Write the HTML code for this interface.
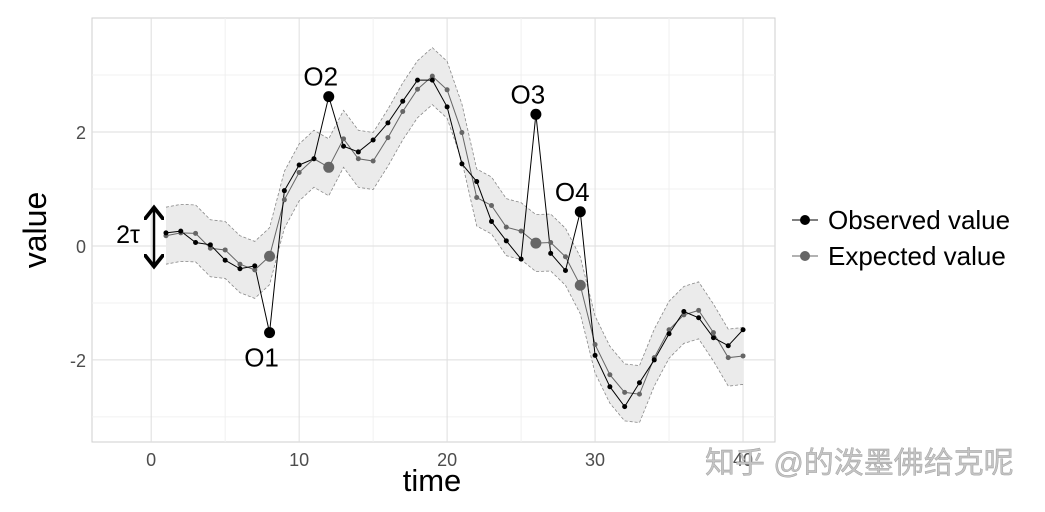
<!DOCTYPE html>
<html><head><meta charset="utf-8"><style>
body{margin:0;background:#fff;}
svg text{font-family:"Liberation Sans","Noto Sans CJK SC",sans-serif;}
</style></head><body>
<svg id="chart" width="1045" height="507" xmlns="http://www.w3.org/2000/svg">
<defs><marker id="ah" markerWidth="8" markerHeight="8" refX="4" refY="4" orient="auto-start-reverse"><path d="M0,0 L5,4 L0,8" fill="none" stroke="#000" stroke-width="1.5"/></marker></defs>
<g id="grid"></g>
<g id="band"></g>
<g id="series"></g>
<g id="axes"></g>
<text x="46" y="230" font-size="32" text-anchor="middle" transform="rotate(-90 46 230)">value</text>
<text x="432" y="491" font-size="31" text-anchor="middle">time</text>
<g>
<line x1="154" y1="210" x2="154" y2="264" stroke="#000" stroke-width="2.5" marker-start="url(#ah)" marker-end="url(#ah)"/>
<text x="128" y="243" font-size="25" text-anchor="middle">2τ</text>
</g>
<g id="labels"></g>
<g>
<g>
<line x1="792" y1="220" x2="818" y2="220" stroke="#000" stroke-width="1"/><circle cx="805" cy="220" r="5" fill="#000"/>
<text x="828" y="229" font-size="26">Observed value</text></g>
<g>
<line x1="792" y1="256" x2="818" y2="256" stroke="#666" stroke-width="1"/><circle cx="805" cy="256" r="5" fill="#666"/>
<text x="828" y="265" font-size="26">Expected value</text></g>
</g>
<text x="705" y="473" font-size="30" fill="#c4c4c4" stroke="#999" stroke-width="0.4">知乎 @的泼墨佛给克呢</text>
</svg>
<script>
const times=[1,2,3,4,5,6,7,8,9,10,11,12,13,14,15,16,17,18,19,20,21,22,23,24,25,26,27,28,29,30,31,32,33,34,35,36,37,38,39,40];
const observed=[0.23,0.26,0.06,0.02,-0.25,-0.40,-0.35,-1.52,0.97,1.42,1.53,2.62,1.75,1.65,1.86,2.16,2.54,2.91,2.91,2.44,1.44,1.13,0.43,0.09,-0.23,2.31,-0.13,-0.43,0.60,-1.92,-2.47,-2.82,-2.40,-2.00,-1.54,-1.15,-1.26,-1.61,-1.75,-1.47];
const expected=[0.18,0.23,0.22,-0.04,-0.07,-0.32,-0.42,-0.18,0.81,1.29,1.53,1.38,1.88,1.53,1.49,1.90,2.36,2.75,2.98,2.74,1.99,0.85,0.71,0.33,0.26,0.05,0.06,-0.19,-0.69,-1.73,-2.26,-2.57,-2.60,-1.96,-1.47,-1.21,-1.13,-1.52,-1.96,-1.93];
const tau=0.5;
const outlierTimes=[8,12,26,29];
const outlierLabels=["O1","O2","O3","O4"];
const xTicks=[0,10,20,30,40];
const yTicks=[-2,0,2];
const xMinor=[5,15,25,35];
const yMinor=[-3,-1,1,3];
const L=92,R=775,T=18,B=442,xmin=-4,xmax=42.16,ymin=-3.44,ymax=4.0;
const X=v=>L+(v-xmin)/(xmax-xmin)*(R-L);
const Y=v=>B-(v-ymin)/(ymax-ymin)*(B-T);
const NS='http://www.w3.org/2000/svg';
function mk(tag,attrs,parent){const e=document.createElementNS(NS,tag);for(const k in attrs)e.setAttribute(k,attrs[k]);parent.appendChild(e);return e;}
const grid=document.getElementById('grid'),axes=document.getElementById('axes');
mk('rect',{x:L,y:T,width:R-L,height:B-T,fill:'#fff',stroke:'#cfcfcf'},grid);
xMinor.forEach(v=>{const l=mk('line',{x1:X(v),x2:X(v),y1:T,y2:B,stroke:'#f0f0f0'},grid);});
yMinor.forEach(v=>{const l=mk('line',{x1:L,x2:R,y1:Y(v),y2:Y(v),stroke:'#f0f0f0'},grid);});
xTicks.forEach(v=>{const l=mk('line',{x1:X(v),x2:X(v),y1:T,y2:B,stroke:'#dedede'},grid);
const t=mk('text',{x:X(v),y:B+24,'font-size':18,fill:'#4d4d4d','text-anchor':'middle'},axes);t.textContent=v;});
yTicks.forEach(v=>{const l=mk('line',{x1:L,x2:R,y1:Y(v),y2:Y(v),stroke:'#dedede'},grid);
const t=mk('text',{x:L-6,y:Y(v)+7,'font-size':18,fill:'#4d4d4d','text-anchor':'end'},axes);t.textContent=v;});
const up=times.map((t,i)=>X(t)+','+Y(expected[i]+tau));
const lo=times.map((t,i)=>X(t)+','+Y(expected[i]-tau)).reverse();
const band=document.getElementById('band');
const bp=mk('polygon',{points:up.concat(lo).join(' '),fill:'#ebebeb',stroke:'none'},band);

const bu=mk('polyline',{points:up.join(' '),fill:'none',stroke:'#888','stroke-width':0.8,'stroke-dasharray':'3,2'},band);

const bl=mk('polyline',{points:lo.join(' '),fill:'none',stroke:'#888','stroke-width':0.8,'stroke-dasharray':'3,2'},band);

const s=document.getElementById('series');
const el=mk('polyline',{points:times.map((t,i)=>X(t)+','+Y(expected[i])).join(' '),fill:'none',stroke:'#666','stroke-width':1},s);

const ol=mk('polyline',{points:times.map((t,i)=>X(t)+','+Y(observed[i])).join(' '),fill:'none',stroke:'#000','stroke-width':1},s);

times.forEach((t,i)=>{const big=outlierTimes.includes(t);
const c=mk('circle',{cx:X(t),cy:Y(expected[i]),r:big?5.5:2.5,fill:'#666'},s);
});
times.forEach((t,i)=>{const big=outlierTimes.includes(t);
const c=mk('circle',{cx:X(t),cy:Y(observed[i]),r:big?5.5:2.5,fill:'#000'},s);
});
const lab=document.getElementById('labels');
outlierTimes.forEach((t,k)=>{const i=times.indexOf(t);const below=observed[i]<expected[i];
const tx=mk('text',{x:X(t)-8,y:below?Y(observed[i])+34:Y(observed[i])-11,'font-size':26,'text-anchor':'middle'},lab);
tx.textContent=outlierLabels[k];});
</script>
</body></html>
